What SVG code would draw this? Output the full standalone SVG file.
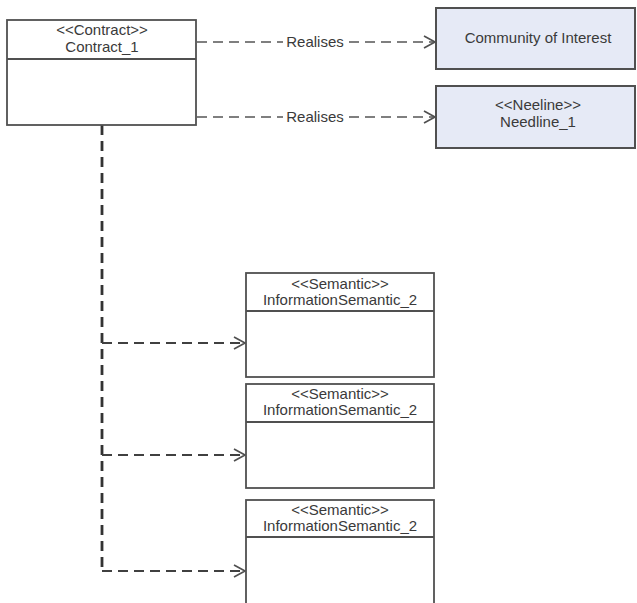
<svg xmlns="http://www.w3.org/2000/svg" width="637" height="603" viewBox="0 0 637 603">
<style>
  .box { fill: #ffffff; stroke: #505050; stroke-width: 1.8; }
  .cls { fill: #e6eaf6; stroke: #505050; stroke-width: 2; }
  .div { stroke: #505050; stroke-width: 1.8; fill: none; }
  .t { font-family: "Liberation Sans", Arial, sans-serif; font-size: 15px; fill: #3a3a3a; text-anchor: middle; }
  .dep { fill: none; stroke: #555555; stroke-width: 1.6; stroke-dasharray: 10 6; }
  .dep2 { fill: none; stroke: #404040; stroke-width: 2; stroke-dasharray: 10 6; }
  .trunk { fill: none; stroke: #333333; stroke-width: 2.8; stroke-dasharray: 10 6; }
  .head { fill: none; stroke: #505050; stroke-width: 1.7; stroke-dasharray: none; }
</style>
<defs>
  <marker id="open" markerUnits="userSpaceOnUse" markerWidth="16" markerHeight="16" refX="12" refY="7" orient="auto">
    <path class="head" d="M1,1 L12,7 L1,13"/>
  </marker>
</defs>
<rect width="637" height="603" fill="#ffffff"/>

<g id="connectors">
  <line class="dep" x1="197" y1="42" x2="283" y2="42"/>
  <text class="t" x="315" y="47">Realises</text>
  <line class="dep" x1="349" y1="42" x2="435" y2="42" marker-end="url(#open)"/>
  <line class="dep" x1="197" y1="117" x2="283" y2="117"/>
  <text class="t" x="315" y="122">Realises</text>
  <line class="dep" x1="349" y1="117" x2="435" y2="117" marker-end="url(#open)"/>
  <line class="trunk" x1="102" y1="125" x2="102" y2="571"/>
  <line class="dep2" x1="102" y1="343" x2="245" y2="343" marker-end="url(#open)"/>
  <line class="dep2" x1="102" y1="455" x2="245" y2="455" marker-end="url(#open)"/>
  <line class="dep2" x1="102" y1="571" x2="245" y2="571" marker-end="url(#open)"/>
</g>

<g id="contract1">
  <rect class="box" x="7" y="20" width="189" height="105"/>
  <line class="div" x1="7" y1="59" x2="196" y2="59"/>
  <text class="t" x="102" y="35">&lt;&lt;Contract&gt;&gt;</text>
  <text class="t" x="102" y="52">Contract_1</text>
</g>

<g id="community">
  <rect class="cls" x="436" y="8" width="199" height="61"/>
  <text class="t" x="538" y="43">Community of Interest</text>
</g>

<g id="needline1">
  <rect class="cls" x="436" y="86" width="199" height="62"/>
  <text class="t" x="538" y="110">&lt;&lt;Neeline&gt;&gt;</text>
  <text class="t" x="538" y="127">Needline_1</text>
</g>

<g id="semantic1">
  <rect class="box" x="246" y="273" width="188" height="104"/>
  <line class="div" x1="246" y1="311" x2="434" y2="311"/>
  <text class="t" x="340" y="289">&lt;&lt;Semantic&gt;&gt;</text>
  <text class="t" x="340" y="305">InformationSemantic_2</text>
</g>

<g id="semantic2">
  <rect class="box" x="246" y="384" width="188" height="104"/>
  <line class="div" x1="246" y1="422" x2="434" y2="422"/>
  <text class="t" x="340" y="399">&lt;&lt;Semantic&gt;&gt;</text>
  <text class="t" x="340" y="415">InformationSemantic_2</text>
</g>

<g id="semantic3">
  <rect class="box" x="246" y="500" width="188" height="110"/>
  <line class="div" x1="246" y1="537" x2="434" y2="537"/>
  <text class="t" x="340" y="515">&lt;&lt;Semantic&gt;&gt;</text>
  <text class="t" x="340" y="531">InformationSemantic_2</text>
</g>
</svg>
